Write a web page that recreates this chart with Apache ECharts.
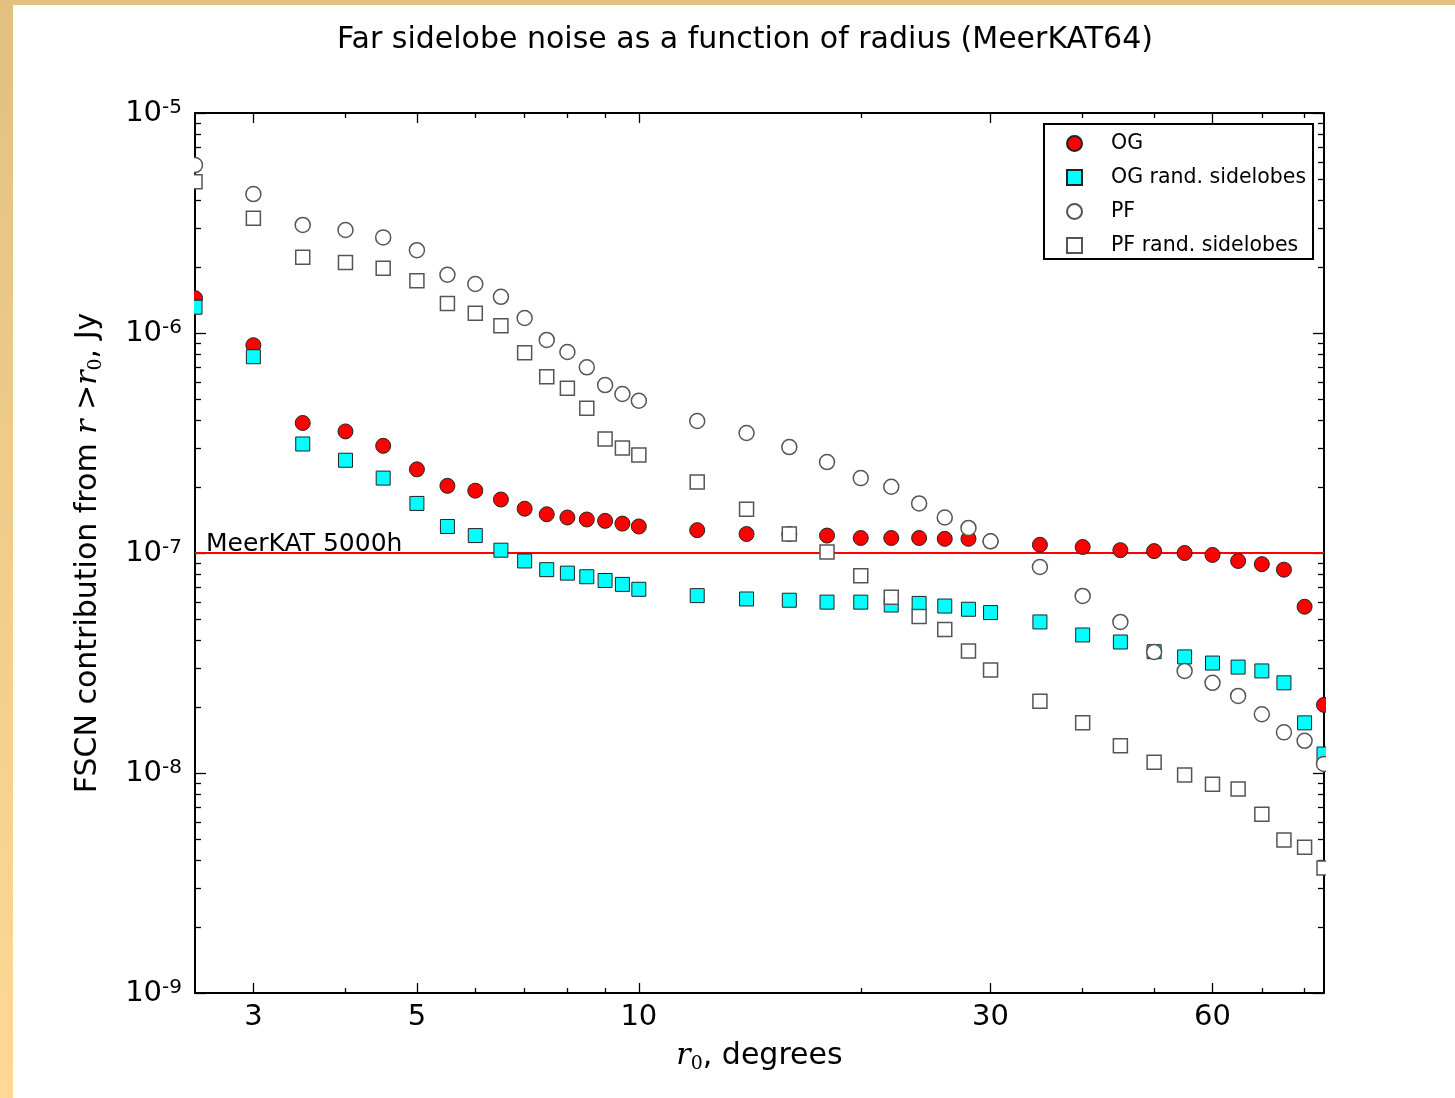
<!DOCTYPE html>
<html lang="en">
<head>
    <meta charset="UTF-8">
    <title>Far sidelobe noise</title>
    <script src="https://cdn.jsdelivr.net/npm/echarts@6/dist/echarts.min.js"></script>
    <style>
        *{
            padding:0;
            margin:0;
            box-sizing: border-box;
        }
        body{
            width:1455px;
            height:1098px;
            background:#fff;
            position:relative;
            overflow:hidden;
        }
        .edge-top{position:absolute;left:0;top:0;width:100%;height:5px;background:#e3c383;}
        .edge-left{position:absolute;left:0;top:0;width:13px;height:100%;background:linear-gradient(#e2c180,#fdd995);}
        #main{position:absolute;left:0;top:0;width:1455px;height:1098px;}
    </style>
</head>
<body>
    <div class="edge-top"></div>
    <div class="edge-left"></div>
    <div id="main"></div>
    <script>
        // r0 in degrees
        var radius=[2.5,3,3.5,4,4.5,5,5.5,6,6.5,7,7.5,8,8.5,9,9.5,10,12,14,16,18,20,22,24,26,28,30,35,40,45,50,55,60,65,70,75,80,85]
        var og=[1.44e-6,8.8e-7,3.9e-7,3.57e-7,3.07e-7,2.4e-7,2.02e-7,1.92e-7,1.75e-7,1.59e-7,1.5e-7,1.45e-7,1.42e-7,1.4e-7,1.36e-7,1.32e-7,
            1.27e-7,1.22e-7,1.22e-7,1.2e-7,1.17e-7,1.17e-7,1.17e-7,1.16e-7,1.16e-7,1.13e-7,
            1.09e-7,1.065e-7,1.03e-7,1.02e-7,1.0e-7,0.98e-7,9.2e-8,8.9e-8,8.4e-8,5.7e-8,2.04e-8]
        var ogRand=[1.31e-6,7.8e-7,3.13e-7,2.64e-7,2.19e-7,1.68e-7,1.32e-7,1.2e-7,1.03e-7,9.2e-8,8.4e-8,8.1e-8,7.8e-8,7.5e-8,7.2e-8,6.84e-8,
            6.4e-8,6.18e-8,6.1e-8,5.98e-8,5.98e-8,5.8e-8,5.9e-8,5.74e-8,5.55e-8,5.36e-8,
            4.86e-8,4.24e-8,3.94e-8,3.56e-8,3.37e-8,3.16e-8,3.03e-8,2.91e-8,2.57e-8,1.69e-8,1.22e-8]
        var pf=[5.8e-6,4.28e-6,3.1e-6,2.94e-6,2.72e-6,2.38e-6,1.84e-6,1.67e-6,1.46e-6,1.17e-6,9.3e-7,8.2e-7,6.98e-7,5.8e-7,5.28e-7,4.92e-7,
            3.98e-7,3.51e-7,3.03e-7,2.59e-7,2.19e-7,2.0e-7,1.68e-7,1.45e-7,1.3e-7,1.13e-7,
            8.64e-8,6.38e-8,4.86e-8,3.55e-8,2.91e-8,2.57e-8,2.24e-8,1.85e-8,1.53e-8,1.4e-8,1.1e-8]
        var pfRand=[4.87e-6,3.32e-6,2.21e-6,2.09e-6,1.97e-6,1.73e-6,1.36e-6,1.23e-6,1.08e-6,8.14e-7,6.33e-7,5.61e-7,4.55e-7,3.3e-7,3.0e-7,2.79e-7,
            2.1e-7,1.58e-7,1.22e-7,1.01e-7,7.88e-8,6.29e-8,5.14e-8,4.49e-8,3.59e-8,2.94e-8,
            2.12e-8,1.69e-8,1.33e-8,1.12e-8,9.8e-9,8.9e-9,8.45e-9,6.5e-9,4.96e-9,4.6e-9,3.7e-9]
        var meerkat5000h=1e-7

        // axis ranges and tick labels
        var xRange=[2.5,85]
        var yRange=[1e-9,1e-5]
        var xMajor=[3,5,10,30,60]
        var xMinor=[4,6,7,8,9,20,40,50,70,80]
        var yMinor=[]
        for(var e=-9;e<-5;e++){
            for(var k=2;k<10;k++){ yMinor.push(k*Math.pow(10,e)) }
        }

        function pairs(ys){
            return radius.map(function(r,i){ return [r,ys[i]] })
        }

        var font="DejaVu Sans"
        var square="path://M0,0L10,0L10,10L0,10Z"
        var mathRich={
            i:{fontFamily:"DejaVu Serif",fontStyle:"italic",fontSize:30,lineHeight:36,color:"#000"},
            sub:{fontFamily:"DejaVu Serif",fontSize:19,lineHeight:26,verticalAlign:"bottom",color:"#000"},
            t:{fontFamily:font,fontSize:30,lineHeight:36,color:"#000"}
        }

        function xAxisOf(pos,ticks,len,labels){
            return {
                type:"log",
                logBase:10,
                position:pos,
                min:xRange[0],
                max:xRange[1],
                splitLine:{show:false},
                axisLine:{show:len>6,lineStyle:{color:"#000",width:2}},
                axisTick:{inside:true,length:len,customValues:ticks,lineStyle:{color:"#000",width:1.3}},
                axisLabel:{show:labels,customValues:ticks,fontFamily:font,fontSize:29,color:"#000",margin:10}
            }
        }
        function yAxisOf(pos,ticks,len,labels){
            var ax={
                type:"log",
                logBase:10,
                position:pos,
                min:yRange[0],
                max:yRange[1],
                splitLine:{show:false},
                axisLine:{show:len>6,lineStyle:{color:"#000",width:2}},
                axisTick:{inside:true,length:len,lineStyle:{color:"#000",width:1.3}},
                axisLabel:{show:labels,margin:13,
                    formatter:function(v){ return "{b|10}{sup|-"+Math.round(-Math.log10(v))+"}" },
                    rich:{
                        b:{fontFamily:font,fontSize:29,lineHeight:30,verticalAlign:"bottom",color:"#000"},
                        sup:{fontFamily:font,fontSize:20,lineHeight:30,verticalAlign:"top",padding:[0,0,12,0],color:"#000"}
                    }
                }
            }
            if(ticks){ ax.axisTick.customValues=ticks }
            return ax
        }

        var myCharts=echarts.init(document.getElementById("main"))
        var xs=[xAxisOf("bottom",xMajor,10,true),xAxisOf("bottom",xMinor,5,false),xAxisOf("top",xMajor,10,false),xAxisOf("top",xMinor,5,false)]
        xs[0].name="{i|r}{sub|0}{t|, degrees}"
        xs[0].nameLocation="middle"
        xs[0].nameGap=45
        xs[0].nameTextStyle={rich:mathRich}
        var ys=[yAxisOf("left",null,11,true),yAxisOf("left",yMinor,6,false),yAxisOf("right",null,11,false),yAxisOf("right",yMinor,6,false)]
        ys[0].name="{t|FSCN contribution from }{i|r}{t| >}{i|r}{sub|0}{t|, Jy}"
        ys[0].nameLocation="middle"
        ys[0].nameRotate=90
        ys[0].nameGap=89
        ys[0].nameTextStyle={rich:mathRich}

        var option={
            animation:false,
            title:{
                text:"Far sidelobe noise as a function of radius (MeerKAT64)",
                left:337,
                top:25,
                padding:0,
                textStyle:{fontFamily:font,fontSize:30,fontWeight:"normal",color:"#000"}
            },
            grid:{left:195,top:113,width:1129,height:880},
            legend:{
                orient:"vertical",
                left:1066,
                top:133,
                padding:0,
                itemWidth:15,
                itemHeight:15,
                itemGap:13,
                textStyle:{fontFamily:font,fontSize:20.5,color:"#000",padding:[0,0,0,24]},
                data:[
                    {name:"OG"},
                    {name:"OG rand. sidelobes",icon:square},
                    {name:"PF"},
                    {name:"PF rand. sidelobes",icon:square}
                ]
            },
            graphic:[
                // legend frame
                {type:"rect",z:3,shape:{x:1044,y:124,width:269,height:135},style:{fill:"#fff",stroke:"#000",lineWidth:2}},
                // points on the edges are cut by the axes
                {type:"rect",z:3,silent:true,shape:{x:183,y:114,width:11,height:878},style:{fill:"#fff"}},
                {type:"rect",z:3,silent:true,shape:{x:1326,y:114,width:14,height:878},style:{fill:"#fff"}}
            ],
            xAxis:xs,
            yAxis:ys,
            series:[
                {
                    name:"OG",
                    type:"scatter",
                    data:pairs(og),
                    symbol:"circle",
                    symbolSize:15,
                    itemStyle:{color:"#ff0000",borderColor:"#222",borderWidth:1,opacity:1},
                    markLine:{
                        silent:true,
                        z:1,
                        symbol:["none","none"],
                        lineStyle:{color:"#ff0000",width:1.8,type:"solid",opacity:1},
                        label:{show:true,position:"insideStartTop",formatter:"MeerKAT 5000h",distance:[5,-4],
                            fontFamily:font,fontSize:25,color:"#000",padding:[0,0,0,6]},
                        data:[[{coord:[xRange[0],meerkat5000h]},{coord:[xRange[1],meerkat5000h]}]]
                    }
                },
                {
                    name:"OG rand. sidelobes",
                    type:"scatter",
                    data:pairs(ogRand),
                    symbol:"rect",
                    symbolSize:14,
                    itemStyle:{color:"#00ffff",borderColor:"#222",borderWidth:1,opacity:1}
                },
                {
                    name:"PF",
                    type:"scatter",
                    data:pairs(pf),
                    symbol:"circle",
                    symbolSize:15,
                    itemStyle:{color:"#fff",borderColor:"#555",borderWidth:1.5,opacity:1}
                },
                {
                    name:"PF rand. sidelobes",
                    type:"scatter",
                    data:pairs(pfRand),
                    symbol:"rect",
                    symbolSize:14,
                    itemStyle:{color:"#fff",borderColor:"#555",borderWidth:1.5,opacity:1}
                }
            ]
        }

        myCharts.setOption(option)
        window.onresize=myCharts.resize
    </script>
</body>
</html>
